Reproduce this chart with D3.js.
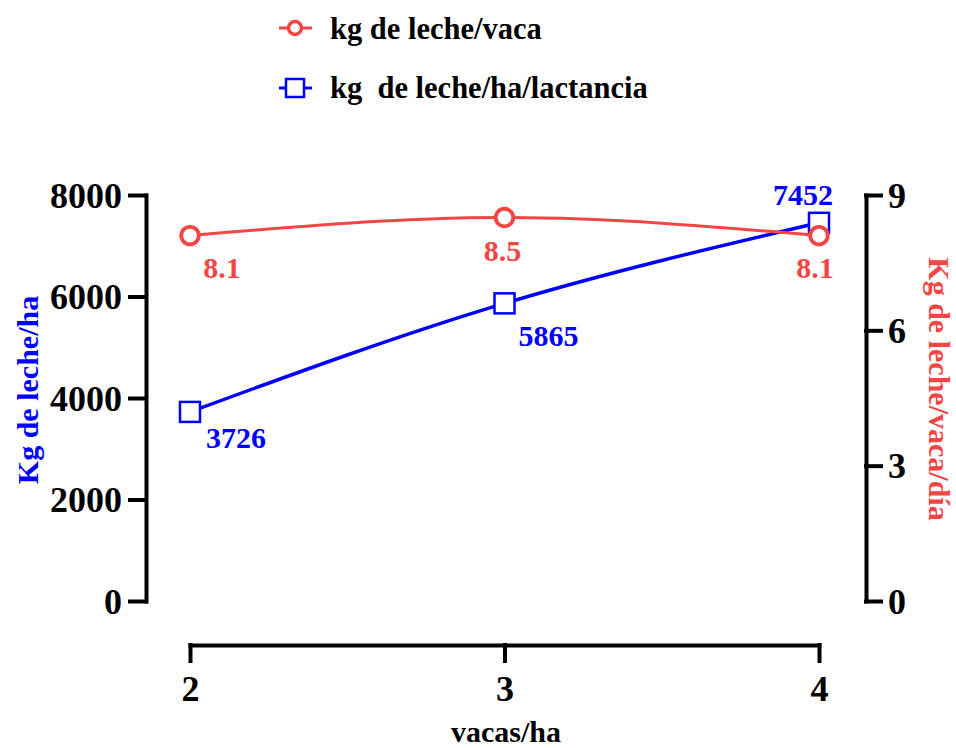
<!DOCTYPE html>
<html>
<head>
<meta charset="utf-8">
<script src="https://cdn.jsdelivr.net/npm/d3@7"></script>
<style>
  html, body { margin: 0; padding: 0; background: #fff; }
  svg text { font-family: "Liberation Serif", "Times New Roman", serif; font-weight: bold; }
</style>
</head>
<body>
<svg id="chart" width="956" height="748"></svg>
<script>
// ---- data ----
const vacasHa = [2, 3, 4];
const kgVaca = [8.1, 8.5, 8.1];          // right axis (kg/vaca/día)
const kgHa = [3726, 5865, 7452];          // left axis (kg/ha)
const xTicks = [2, 3, 4];
const yLeftTicks = [0, 2000, 4000, 6000, 8000];
const yRightTicks = [0, 3, 6, 9];
const legendLabels = ["kg de leche/vaca", "kg  de leche/ha/lactancia"];
const xTitle = "vacas/ha";
const yLeftTitle = "Kg de leche/ha";
const yRightTitle = "Kg de leche/vaca/día";

const RED = "#f44545";
const BLUE = "#0000ff";

const svg = d3.select("#chart");

const x = d3.scaleLinear().domain([2, 4]).range([190, 819]);
const yL = d3.scaleLinear().domain([0, 8000]).range([601, 195]);
const yR = d3.scaleLinear().domain([0, 9]).range([601, 195]);

function styleAxis(g) {
  g.selectAll("path.domain").attr("stroke", "#000").attr("stroke-width", 4).attr("stroke-linecap", "square");
  g.selectAll(".tick line").attr("stroke", "#000").attr("stroke-width", 4).attr("stroke-linecap", "square");
  g.selectAll(".tick text").attr("fill", "#000")
    .style("font-family", '"Liberation Serif", serif').style("font-weight", "bold").style("font-size", "36px");
}

// left axis
const gL = svg.append("g").attr("transform", "translate(146,0)")
  .call(d3.axisLeft(yL).tickValues(yLeftTicks).tickSize(16).tickSizeOuter(0).tickPadding(8).tickFormat(d3.format("d")));
styleAxis(gL);
gL.selectAll(".tick text").attr("dy", "0.34em");

// right axis
const gR = svg.append("g").attr("transform", "translate(866,0)")
  .call(d3.axisRight(yR).tickValues(yRightTicks).tickSize(15).tickSizeOuter(0).tickPadding(7).tickFormat(d3.format("d")));
styleAxis(gR);
gR.selectAll(".tick text").attr("dy", "0.34em");

// x axis
const gX = svg.append("g").attr("transform", "translate(0,645)")
  .call(d3.axisBottom(x).tickValues(xTicks).tickSize(16).tickSizeOuter(0).tickPadding(8).tickFormat(d3.format("d")));
styleAxis(gX);
gX.selectAll(".tick text").attr("dy", "0.9em");

// axis titles
svg.append("text").attr("x", 506).attr("y", 742).attr("text-anchor", "middle")
  .style("font-size", "30px").attr("fill", "#000").text(xTitle);

svg.append("text").attr("transform", "translate(38,390) rotate(-90)").attr("text-anchor", "middle")
  .style("font-size", "30px").attr("fill", BLUE).text(yLeftTitle);

svg.append("text").attr("transform", "translate(929,389) rotate(90)").attr("text-anchor", "middle")
  .style("font-size", "30px").attr("fill", RED).text(yRightTitle);

// blue series (left axis)
const blueLine = d3.line().x((d, i) => x(vacasHa[i])).y(d => yL(d)).curve(d3.curveNatural);
svg.append("path").datum(kgHa).attr("d", blueLine)
  .attr("fill", "none").attr("stroke", BLUE).attr("stroke-width", 3.5);

const sq = 20;
svg.selectAll("rect.pt").data(kgHa).enter().append("rect").attr("class", "pt")
  .attr("x", (d, i) => x(vacasHa[i]) - sq / 2).attr("y", d => yL(d) - sq / 2)
  .attr("width", sq).attr("height", sq)
  .attr("fill", "#fff").attr("stroke", BLUE).attr("stroke-width", 2.5);

// red series (right axis)
const redLine = d3.line().x((d, i) => x(vacasHa[i])).y(d => yR(d)).curve(d3.curveNatural);
svg.append("path").datum(kgVaca).attr("d", redLine)
  .attr("fill", "none").attr("stroke", RED).attr("stroke-width", 3);

svg.selectAll("circle.pt").data(kgVaca).enter().append("circle").attr("class", "pt")
  .attr("cx", (d, i) => x(vacasHa[i])).attr("cy", d => yR(d)).attr("r", 8.8)
  .attr("fill", "#fff").attr("stroke", RED).attr("stroke-width", 3.8);

// data labels
const blueOff = [[46, 36], [44, 43], [-16, -18]];
const redOff = [[32, 42], [-2, 43], [-4, 42]];

svg.selectAll("text.bl").data(kgHa).enter().append("text").attr("class", "bl")
  .attr("x", (d, i) => x(vacasHa[i]) + blueOff[i][0]).attr("y", d => yL(d))
  .attr("dy", (d, i) => blueOff[i][1])
  .attr("text-anchor", "middle").style("font-size", "30px").attr("fill", BLUE)
  .text(d => d);

svg.selectAll("text.rl").data(kgVaca).enter().append("text").attr("class", "rl")
  .attr("x", (d, i) => x(vacasHa[i]) + redOff[i][0]).attr("y", d => yR(d))
  .attr("dy", (d, i) => redOff[i][1])
  .attr("text-anchor", "middle").style("font-size", "30px").attr("fill", RED)
  .text(d => d3.format(".1f")(d));

// legend
const lg = svg.append("g");
lg.append("line").attr("x1", 279).attr("x2", 312).attr("y1", 28).attr("y2", 28)
  .attr("stroke", RED).attr("stroke-width", 3);
lg.append("circle").attr("cx", 295).attr("cy", 28).attr("r", 6.5)
  .attr("fill", "#fff").attr("stroke", RED).attr("stroke-width", 3.5);
lg.append("text").attr("x", 330).attr("y", 39).style("font-size", "30.5px").attr("fill", "#000")
  .style("white-space", "pre").text(legendLabels[0]);

lg.append("line").attr("x1", 279).attr("x2", 312).attr("y1", 88).attr("y2", 88)
  .attr("stroke", BLUE).attr("stroke-width", 3);
lg.append("rect").attr("x", 286).attr("y", 79).attr("width", 18).attr("height", 18)
  .attr("fill", "#fff").attr("stroke", BLUE).attr("stroke-width", 2.5);
lg.append("text").attr("x", 330).attr("y", 98).style("font-size", "30.5px").attr("fill", "#000")
  .style("white-space", "pre").text(legendLabels[1]);
</script>
</body>
</html>
